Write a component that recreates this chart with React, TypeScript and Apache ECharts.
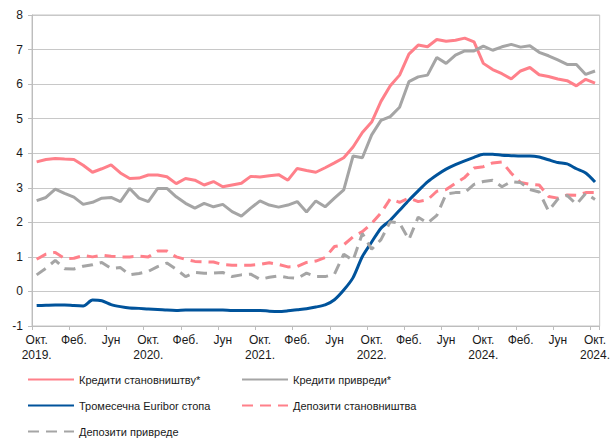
import React, { useEffect, useRef } from "react";
import * as echarts from "echarts";

// 61 monthly points: Oct 2019 .. Oct 2024
const monthNames = ["Окт.", "Нов.", "Дец.", "Јан.", "Феб.", "Мар.", "Апр.", "Мај", "Јун", "Јул", "Авг.", "Сеп."];
const categories: string[] = [];
for (let i = 0; i < 61; i++) {
  categories.push(monthNames[i % 12] + " " + (2019 + Math.floor((i + 9) / 12)));
}

// tick labels shown every 4th month (as printed in the original)
const tickLabels = [
  "Окт.\n2019.", "Феб.", "Јун",
  "Окт.\n2020.", "Феб.", "Јун",
  "Окт.\n2021.", "Феб.", "Јун",
  "Окт.\n2022.", "Феб.", "Јун",
  "Окт.\n2024.", "Феб.", "Јун",
  "Окт.\n2024.",
];

const householdLoans = [
  3.75, 3.82, 3.85, 3.83, 3.82, 3.65, 3.45, 3.55, 3.66, 3.43, 3.27, 3.28, 3.37, 3.37, 3.32, 3.12,
  3.27, 3.22, 3.08, 3.18, 3.03, 3.08, 3.13, 3.33, 3.31, 3.35, 3.38, 3.22, 3.56, 3.5, 3.45, 3.58,
  3.72, 3.87, 4.18, 4.6, 4.9, 5.5, 5.95, 6.26, 6.87, 7.13, 7.08, 7.29, 7.24, 7.27, 7.33,
  7.22, 6.6, 6.42, 6.3, 6.15, 6.38, 6.48, 6.27, 6.22, 6.15, 6.1, 5.95, 6.14, 6.03,
];

const corporateLoans = [
  2.63, 2.72, 2.96, 2.84, 2.73, 2.52, 2.58, 2.7, 2.72, 2.6, 2.98, 2.7, 2.6, 2.98, 2.98, 2.74,
  2.55, 2.41, 2.55, 2.45, 2.52, 2.31, 2.18, 2.41, 2.62, 2.5, 2.44, 2.5, 2.6, 2.3, 2.62, 2.45,
  2.7, 2.94, 3.92, 3.87, 4.53, 4.95, 5.06, 5.33, 6.07, 6.21, 6.26, 6.77, 6.6, 6.84, 6.96,
  6.96, 7.1, 6.98, 7.08, 7.15, 7.07, 7.11, 6.92, 6.82, 6.7, 6.57, 6.57, 6.28, 6.38,
];

const euribor3m = [
  -0.41, -0.4, -0.39, -0.39, -0.41, -0.42, -0.25, -0.27, -0.38, -0.44,
  -0.48, -0.49, -0.51, -0.52, -0.54, -0.55, -0.54, -0.54, -0.54, -0.54,
  -0.54, -0.55, -0.55, -0.55, -0.55, -0.57, -0.58, -0.56, -0.53, -0.5,
  -0.45, -0.39, -0.24, 0.04, 0.4, 1.01, 1.43, 1.83, 2.06, 2.35,
  2.64, 2.91, 3.17, 3.37, 3.54, 3.67, 3.78, 3.88, 3.97, 3.97,
  3.94, 3.93, 3.92, 3.92, 3.89, 3.81, 3.73, 3.69, 3.55, 3.43, 3.17,
];

const householdDeposits = [
  0.93, 1.08, 1.13, 0.95, 0.96, 1.04, 1.0, 1.05, 1.02, 1.0, 1.0, 1.02, 1.0, 1.17, 1.17, 1.0,
  0.93, 0.87, 0.86, 0.85, 0.78, 0.76, 0.76, 0.76, 0.78, 0.83, 0.78, 0.71, 0.72, 0.84, 0.88, 0.98,
  1.3, 1.35, 1.58, 1.73, 1.97, 2.27, 2.68, 2.58, 2.7, 2.6, 2.65, 2.9, 2.95, 3.13, 3.3,
  3.57, 3.61, 3.72, 3.75, 3.42, 3.15, 3.1, 3.08, 2.75, 2.7, 2.79, 2.78, 2.86, 2.86,
];

const corporateDeposits = [
  0.48, 0.67, 0.9, 0.66, 0.65, 0.73, 0.77, 0.84, 0.67, 0.69, 0.48, 0.52, 0.58, 0.72, 0.82, 0.64,
  0.43, 0.55, 0.53, 0.53, 0.55, 0.43, 0.48, 0.5, 0.35, 0.41, 0.45, 0.4, 0.38, 0.53, 0.43, 0.43,
  0.5, 1.08, 0.9, 1.68, 1.22, 1.5, 2.02, 1.98, 1.5, 2.15, 1.98, 2.2, 2.82, 2.86, 2.86,
  3.1, 3.18, 3.22, 3.03, 3.18, 3.15, 2.95, 2.88, 2.33, 2.67, 2.78, 2.52, 2.84, 2.66,
];

const seriesNames = [
  "Кредити становништву*",
  "Кредити привреди*",
  "Тромесечна Euribor стопа",
  "Депозити становништва",
  "Депозити привреде",
];

const PINK = "#FF808A";
const GREY = "#A5A5A5";
const BLUE = "#00539B";
const FONT = "Liberation Sans, Arial, sans-serif";
const dash = [11, 7];

const legendPos = [
  { left: 27, top: 374 },
  { left: 241, top: 374 },
  { left: 27, top: 400 },
  { left: 241, top: 400 },
  { left: 27, top: 426 },
];

export default function App() {
  const ref = useRef<HTMLDivElement>(null);
  useEffect(() => {
    document.body.style.margin = "0";
    const chart = echarts.init(ref.current!, null, { renderer: "svg" });
    const mk = (name: string, data: number[], color: string, dashed: boolean, smooth = false) => ({
      name,
      type: "line",
      data,
      symbol: "none",
      smooth: smooth ? 0.25 : false,
      lineStyle: { color, width: 3, type: dashed ? dash : "solid", cap: "butt" },
      itemStyle: { color },
    });
    chart.setOption({
      animation: false,
      backgroundColor: "#ffffff",
      textStyle: { fontFamily: FONT },
      grid: {
        left: 32,
        right: 10,
        top: 15,
        bottom: 115,
        show: true,
        borderColor: "#c4c4c4",
        borderWidth: 1,
      },
      legend: seriesNames.map((n, i) => ({
        data: [n],
        left: legendPos[i].left,
        top: legendPos[i].top,
        itemWidth: 46,
        itemHeight: 14,
        padding: 0,
        itemGap: 0,
        selectedMode: false,
        itemStyle: { opacity: 0 },
        textStyle: { fontFamily: FONT, fontSize: 11, color: "#1a1a1a" },
      })),
      xAxis: {
        type: "category",
        data: categories,
        boundaryGap: true,
        axisLine: { show: true, onZero: false, lineStyle: { color: "#bdbdbd", width: 1 } },
        axisTick: { show: true, interval: 3, length: 4, lineStyle: { color: "#bdbdbd" } },
        axisLabel: {
          interval: 3,
          margin: 6,
          fontFamily: FONT,
          fontSize: 12,
          lineHeight: 15,
          color: "#1a1a1a",
          formatter: (_v: string, idx: number) => tickLabels[Math.round(idx / 4)] ?? "",
        },
        splitLine: { show: false },
      },
      yAxis: {
        type: "value",
        min: -1,
        max: 8,
        interval: 1,
        axisLine: { show: true, lineStyle: { color: "#bdbdbd", width: 1 } },
        axisTick: { show: true, length: 4, lineStyle: { color: "#bdbdbd" } },
        axisLabel: { margin: 9, fontFamily: FONT, fontSize: 12, color: "#1a1a1a" },
        splitLine: { show: true, lineStyle: { color: "#c8c8c8", width: 1 } },
      },
      series: [
        mk(seriesNames[0], householdLoans, PINK, false),
        mk(seriesNames[1], corporateLoans, GREY, false),
        mk(seriesNames[2], euribor3m, BLUE, false, true),
        mk(seriesNames[3], householdDeposits, PINK, true),
        mk(seriesNames[4], corporateDeposits, GREY, true),
      ],
    });
    return () => chart.dispose();
  }, []);
  return <div ref={ref} style={{ width: 613, height: 441 }} />;
}
